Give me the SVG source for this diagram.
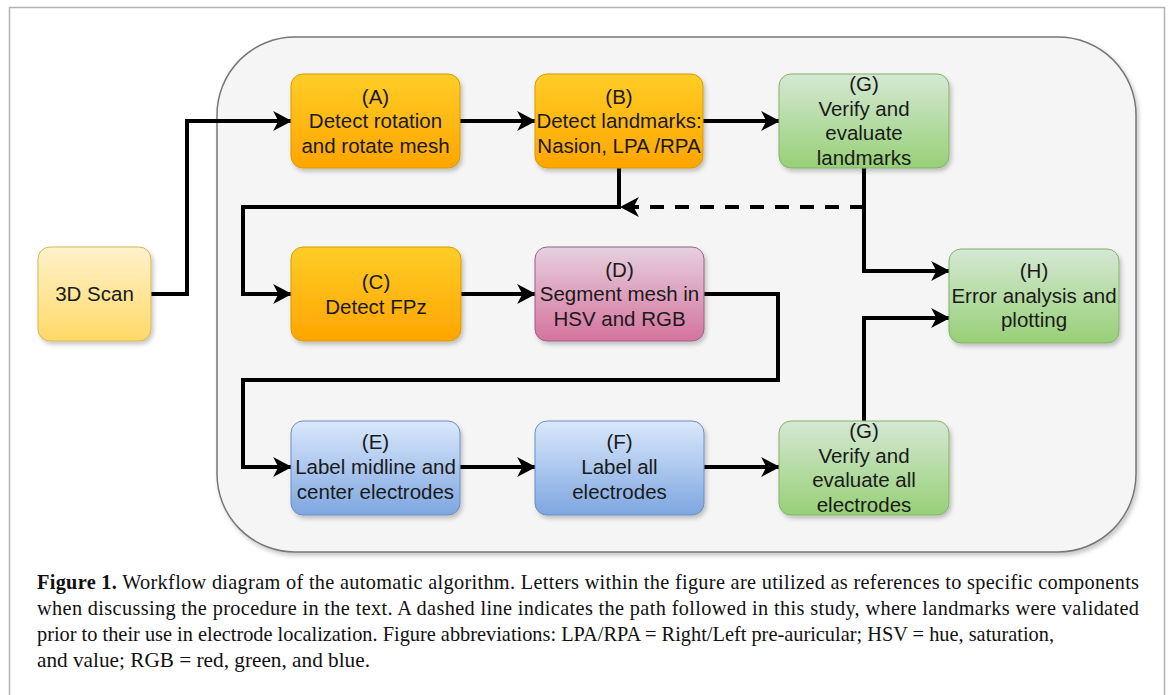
<svg xmlns="http://www.w3.org/2000/svg" width="1170" height="695" viewBox="0 0 1170 695">
<defs>
<linearGradient id="gOrange" x1="0" y1="0" x2="0" y2="1"><stop offset="0" stop-color="#ffcd28"/><stop offset="1" stop-color="#ffa500"/></linearGradient>
<linearGradient id="gYellow" x1="0" y1="0" x2="0" y2="1"><stop offset="0" stop-color="#fff2cc"/><stop offset="1" stop-color="#ffd966"/></linearGradient>
<linearGradient id="gGreen" x1="0" y1="0" x2="0" y2="1"><stop offset="0" stop-color="#d5e8d4"/><stop offset="1" stop-color="#97d077"/></linearGradient>
<linearGradient id="gPink" x1="0" y1="0" x2="0" y2="1"><stop offset="0" stop-color="#e6d0de"/><stop offset="1" stop-color="#d5739d"/></linearGradient>
<linearGradient id="gBlue" x1="0" y1="0" x2="0" y2="1"><stop offset="0" stop-color="#dae8fc"/><stop offset="1" stop-color="#7ea6e0"/></linearGradient>
<filter id="shadow" x="-10%" y="-10%" width="130%" height="130%"><feDropShadow dx="2" dy="3" stdDeviation="2" flood-color="#000" flood-opacity="0.22"/></filter>
<marker id="arr" markerUnits="userSpaceOnUse" markerWidth="20" markerHeight="20" viewBox="0 0 18 19" refX="17" refY="9.5" orient="auto">
<path d="M0,0 L18,9.5 L0,19 L5,9.5 Z" fill="#000"/>
</marker>
</defs>
<style>
.box{stroke-width:1;filter:url(#shadow)}
.orange{fill:url(#gOrange);stroke:#d79b00}
.yellow{fill:url(#gYellow);stroke:#d6b656}
.green{fill:url(#gGreen);stroke:#82b366}
.pink{fill:url(#gPink);stroke:#996185}
.blue{fill:url(#gBlue);stroke:#6c8ebf}
.lbl{font-family:"Liberation Sans",Arial,sans-serif;font-size:20.5px;fill:#1a1a1a;text-anchor:middle}
.conn{fill:none;stroke:#000;stroke-width:4;marker-end:url(#arr)}
.dash{stroke-dasharray:14 11}
.cap{font-family:"Liberation Serif","Times New Roman",serif;font-size:20.3px;fill:#111}
</style>
<rect width="1170" height="695" fill="#fff"/>
<rect x="9.5" y="7.5" width="1155" height="720" fill="none" stroke="#b3b3b3" stroke-width="1.5"/>
<g id="container">
<rect x="217" y="37" width="919" height="515" rx="78" ry="78" fill="#f5f5f5" stroke="#777" stroke-width="1.5" filter="url(#shadow)"/>
</g>
<g id="connectors">
<path class="conn" d="M151,294 H187 V121 H291"/>
<path class="conn" d="M460,121 H535"/>
<path class="conn" d="M703,121 H779"/>
<path class="conn" d="M619,167 V207 H243 V294 H291"/>
<path class="conn dash" d="M864,207 H621"/>
<path class="conn" d="M864,168 V271 H949"/>
<path class="conn" d="M864,421 V318 H949"/>
<path class="conn" d="M461,294 H535"/>
<path class="conn" d="M704,294 H778 V380 H243 V467 H291"/>
<path class="conn" d="M460,467 H535"/>
<path class="conn" d="M704,467 H779"/>
</g>
<g id="scan">
<rect class="box yellow" x="38" y="247" width="113" height="94" rx="12"/>
<text class="lbl" x="94.5" y="301">3D Scan</text>
</g>
<g id="A">
<rect class="box orange" x="291" y="74" width="169" height="94" rx="12"/>
<text class="lbl" x="375.5" y="104">(A)</text>
<text class="lbl" x="375.5" y="128">Detect rotation</text>
<text class="lbl" x="375.5" y="153">and rotate mesh</text>
</g>
<g id="B">
<rect class="box orange" x="535" y="74" width="168" height="94" rx="12"/>
<text class="lbl" x="619" y="104">(B)</text>
<text class="lbl" x="619" y="128">Detect landmarks:</text>
<text class="lbl" x="619" y="153">Nasion, LPA /RPA</text>
</g>
<g id="G1">
<rect class="box green" x="779" y="74" width="170" height="94" rx="12"/>
<text class="lbl" x="864" y="91">(G)</text>
<text class="lbl" x="864" y="116">Verify and</text>
<text class="lbl" x="864" y="140">evaluate</text>
<text class="lbl" x="864" y="165">landmarks</text>
</g>
<g id="C">
<rect class="box orange" x="291" y="247" width="170" height="94" rx="12"/>
<text class="lbl" x="376" y="289">(C)</text>
<text class="lbl" x="376" y="314">Detect FPz</text>
</g>
<g id="D">
<rect class="box pink" x="535" y="247" width="169" height="94" rx="12"/>
<text class="lbl" x="619.5" y="277">(D)</text>
<text class="lbl" x="619.5" y="301">Segment mesh in</text>
<text class="lbl" x="619.5" y="326">HSV and RGB</text>
</g>
<g id="H">
<rect class="box green" x="949" y="249" width="170" height="94" rx="12"/>
<text class="lbl" x="1034" y="278">(H)</text>
<text class="lbl" x="1034" y="303">Error analysis and</text>
<text class="lbl" x="1034" y="327">plotting</text>
</g>
<g id="E">
<rect class="box blue" x="291" y="421" width="169" height="94" rx="12"/>
<text class="lbl" x="375.5" y="449">(E)</text>
<text class="lbl" x="375.5" y="474">Label midline and</text>
<text class="lbl" x="375.5" y="499">center electrodes</text>
</g>
<g id="F">
<rect class="box blue" x="535" y="421" width="169" height="94" rx="12"/>
<text class="lbl" x="619.5" y="449">(F)</text>
<text class="lbl" x="619.5" y="474">Label all</text>
<text class="lbl" x="619.5" y="499">electrodes</text>
</g>
<g id="G2">
<rect class="box green" x="779" y="421" width="170" height="94" rx="12"/>
<text class="lbl" x="864" y="438">(G)</text>
<text class="lbl" x="864" y="463">Verify and</text>
<text class="lbl" x="864" y="487">evaluate all</text>
<text class="lbl" x="864" y="512">electrodes</text>
</g>
<g id="caption">
<text class="cap" x="37" y="589" textLength="1102" lengthAdjust="spacing"><tspan font-weight="bold">Figure 1.</tspan> Workflow diagram of the automatic algorithm. Letters within the figure are utilized as references to specific components</text>
<text class="cap" x="37" y="615" textLength="1102" lengthAdjust="spacing">when discussing the procedure in the text. A dashed line indicates the path followed in this study, where landmarks were validated</text>
<text class="cap" x="37" y="641" textLength="1017" lengthAdjust="spacingAndGlyphs">prior to their use in electrode localization. Figure abbreviations: LPA/RPA = Right/Left pre-auricular; HSV = hue, saturation,</text>
<text class="cap" x="37" y="667" textLength="333" lengthAdjust="spacingAndGlyphs">and value; RGB = red, green, and blue.</text>
</g>
</svg>
